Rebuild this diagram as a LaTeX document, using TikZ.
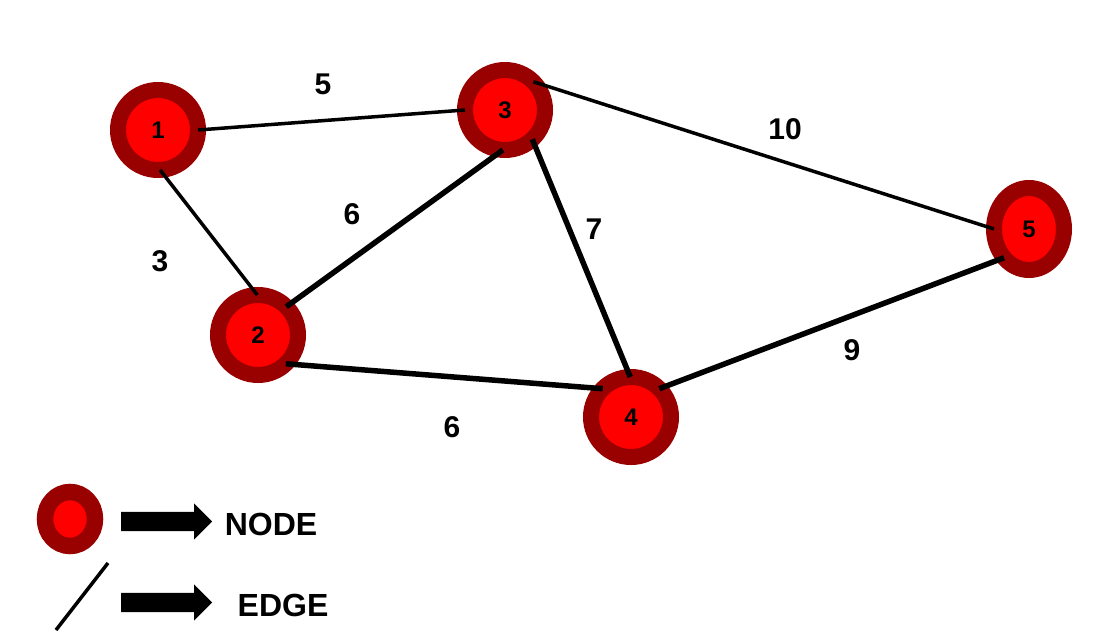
\documentclass[tikz,border=0pt]{standalone}
\usepackage{fontspec}
\setmainfont{Liberation Sans}
\usetikzlibrary{shapes.geometric,shapes.arrows}
\definecolor{ringred}{RGB}{153,0,0}
\definecolor{corered}{RGB}{255,0,0}
\tikzset{
  vertex/.style={circle, draw=ringred, fill=corered, line width=16pt,
    minimum size=80pt, inner sep=0pt, outer sep=0pt,
    font=\fontsize{24}{28}\selectfont\bfseries},
  thinedge/.style={line width=3.5pt},
  thickedge/.style={line width=5.5pt},
  weight/.style={font=\fontsize{30}{36}\selectfont\bfseries},
  legendtext/.style={font=\fontsize{32}{38}\selectfont\bfseries},
  blockarrow/.style={single arrow, fill=black, draw=none, minimum height=91pt,
    inner xsep=0pt, inner ysep=9.5pt, single arrow head extend=8.5pt,
    single arrow head indent=0pt, anchor=tail}
}
\begin{document}
\begin{tikzpicture}[x=1pt, y=-1pt]
  \useasboundingbox (0,0) rectangle (1112,642);

  % the nodes
  \node[vertex] (n1) at (158,130) {1};
  \node[vertex] (n3) at (505,110) {3};
  \node[vertex] (n2) at (258,335) {2};
  \node[vertex] (n4) at (631,417) {4};
  \node[vertex, ellipse, minimum width=70pt, minimum height=82pt] (n5) at (1029,229) {5};

  % the edges
  \draw[thinedge] (n1.0) -- (n3.180);
  \draw[thinedge] (n1.-87) -- (n2.91);
  \draw[thickedge] (n2.45) -- (n3.-93);
  \draw[thickedge] (n3.-47) -- (n4.91);
  \draw[thickedge] (n2.-46) -- (n4.135);
  \draw[thinedge] (n3.45) -- (n5.180);
  \draw[thickedge] (n4.45) -- (n5.-131);

  % the weights
  \node[weight] (w13) at (323,84) {5};
  \node[weight] (w12) at (160,261) {3};
  \node[weight] (w23) at (352,214) {6};
  \node[weight] (w34) at (594,229) {7};
  \node[weight] (w35) at (785,129) {10};
  \node[weight] (w45) at (852,350) {9};
  \node[weight] (w24) at (452,427) {6};

  % the legend
  \node[vertex, ellipse, line width=16.5pt, minimum width=50pt, minimum height=54pt] (legnode) at (70,519) {};
  \coordinate (legline1) at (56,630);
  \coordinate (legline2) at (108,563);
  \draw[thinedge] (legline1) -- (legline2);
  \node[blockarrow] (legnodearrow) at (121,521.5) {};
  \node[blockarrow] (legedgearrow) at (121,602.5) {};
  \node[legendtext] (legnodetext) at (271,524) {NODE};
  \node[legendtext] (legedgetext) at (283,605) {EDGE};
\end{tikzpicture}
\end{document}
